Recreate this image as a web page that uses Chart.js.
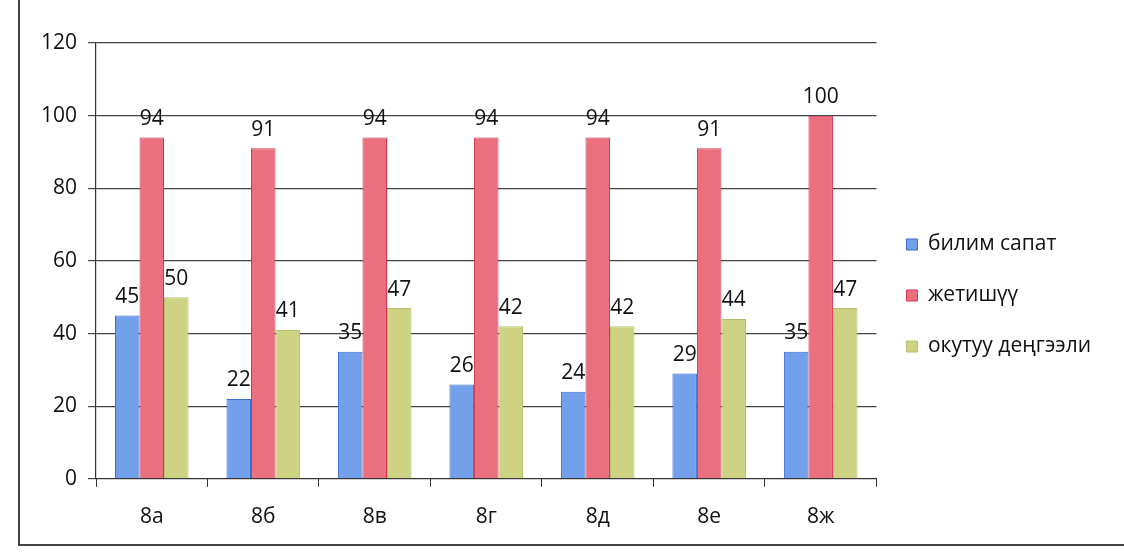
<!DOCTYPE html>
<html>
<head>
<meta charset="utf-8">
<script src="https://cdn.jsdelivr.net/npm/chart.js@4/dist/chart.umd.min.js"></script>
<style>
    html, body { margin: 0; padding: 0; background: #fff; }
    body { width: 1124px; height: 558px; overflow: hidden; position: relative; }
    .frame {
        position: absolute; left: 18px; top: -2px; width: 1110px; height: 546px;
        border-left: 2px solid #444; border-bottom: 2px solid #444;
    }
    .chart-box { position: absolute; left: 20px; top: 0; width: 1104px; height: 548px; }
</style>
</head>
<body>
<div class="frame"></div>
<div class="chart-box"><canvas id="classChart"></canvas></div>
<script>
// Класстар боюнча көрсөткүчтөр
const classes = ['8а', '8б', '8в', '8г', '8д', '8е', '8ж'];
const bilimSapat = [45, 22, 35, 26, 24, 29, 35];
const jetishuu = [94, 91, 94, 94, 94, 91, 100];
const okutuuDengeeli = [50, 41, 47, 42, 42, 44, 47];
const yTicks = [0, 20, 40, 60, 80, 100, 120];

const fontFamily = "'Open Sans', 'DejaVu Sans', sans-serif";

// Мамычалардын үстүнө маанилерди жазуу
const valueLabels = {
    id: 'valueLabels',
    afterDatasetsDraw(chart) {
        const ctx = chart.ctx;
        ctx.save();
        ctx.fillStyle = '#111';
        ctx.font = '21px ' + fontFamily;
        ctx.textAlign = 'center';
        ctx.textBaseline = 'bottom';
        chart.data.datasets.forEach((ds, i) => {
            chart.getDatasetMeta(i).data.forEach((bar, j) => {
                ctx.fillText(ds.data[j], bar.x, bar.y - 8);
            });
        });
        ctx.restore();
    }
};

document.addEventListener('DOMContentLoaded', function() {
    const ctx = document.getElementById('classChart').getContext('2d');
    new Chart(ctx, {
        type: 'bar',
        data: {
            labels: classes,
            datasets: [
                {
                    label: 'билим сапат',
                    data: bilimSapat,
                    backgroundColor: '#72a0ea',
                    borderColor: '#3a6cd2',
                    borderWidth: 1
                },
                {
                    label: 'жетишүү',
                    data: jetishuu,
                    backgroundColor: '#ea7080',
                    borderColor: '#d8334d',
                    borderWidth: 1
                },
                {
                    label: 'окутуу деңгээли',
                    data: okutuuDengeeli,
                    backgroundColor: '#cdd382',
                    borderColor: '#b7bf6c',
                    borderWidth: 1
                }
            ]
        },
        options: {
            responsive: true,
            maintainAspectRatio: false,
            animation: false,
            layout: { padding: { top: 43, left: 10, right: 23, bottom: 0 } },
            datasets: { bar: { categoryPercentage: 0.66, barPercentage: 1 } },
            plugins: {
                legend: {
                    position: 'right',
                    labels: {
                        boxWidth: 11,
                        boxHeight: 11,
                        padding: 30,
                        color: '#111',
                        font: { family: fontFamily, size: 21 }
                    }
                },
                tooltip: { enabled: false }
            },
            scales: {
                x: {
                    grid: { display: true, drawOnChartArea: false, drawTicks: true, tickLength: 8, color: '#333', offset: true },
                    border: { color: '#333', width: 1 },
                    ticks: { color: '#111', padding: 18, font: { family: fontFamily, size: 21 } }
                },
                y: {
                    min: 0,
                    max: 120,
                    afterBuildTicks: axis => { axis.ticks = yTicks.map(v => ({ value: v })); },
                    grid: { color: '#444', lineWidth: 1.2, tickLength: 8 },
                    border: { color: '#333', width: 1.2 },
                    ticks: { color: '#111', padding: 11, font: { family: fontFamily, size: 21 } }
                }
            }
        },
        plugins: [valueLabels]
    });
});
</script>
</body>
</html>
